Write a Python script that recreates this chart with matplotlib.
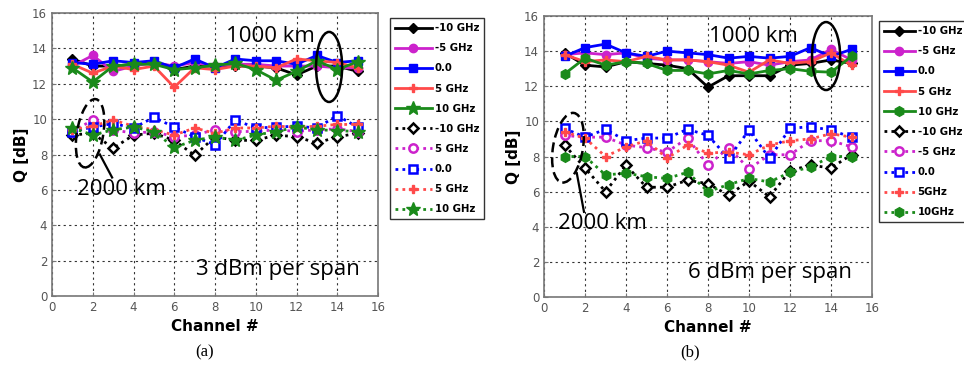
import matplotlib
matplotlib.use("Agg")
import matplotlib.pyplot as plt
from matplotlib.patches import Ellipse
import numpy as np

channels = list(range(1, 16))

# ---- Panel (a): 3 dBm per span ----
a_1000_m10 = [13.4, 13.0, 13.0, 13.1, 13.2, 12.8, 13.0, 13.0, 13.0, 13.0, 12.9, 12.5, 13.0, 13.0, 12.7]
a_1000_m5 = [13.0, 13.6, 12.7, 13.0, 13.2, 13.0, 13.2, 13.0, 13.1, 13.1, 13.0, 13.0, 13.0, 12.9, 12.9]
a_1000_0 = [13.2, 13.1, 13.3, 13.2, 13.3, 12.9, 13.4, 12.9, 13.4, 13.3, 13.3, 13.1, 13.6, 13.2, 13.3]
a_1000_p5 = [13.1, 12.6, 13.0, 12.8, 13.0, 11.8, 12.9, 12.8, 13.0, 13.0, 12.9, 13.4, 13.3, 13.2, 12.9]
a_1000_p10 = [12.9, 12.1, 13.0, 13.1, 13.1, 12.8, 12.9, 13.05, 13.15, 12.8, 12.2, 12.7, 13.3, 12.8, 13.25]

a_2000_m10 = [9.1, 9.2, 8.35, 9.1, 9.2, 8.8, 7.95, 9.0, 8.8, 8.8, 9.1, 9.0, 8.65, 9.0, 9.2]
a_2000_m5 = [9.3, 9.95, 9.4, 9.2, 9.3, 9.0, 9.1, 9.4, 9.3, 9.3, 9.4, 9.3, 9.4, 9.45, 9.3]
a_2000_0 = [9.3, 9.55, 9.75, 9.5, 10.1, 9.55, 9.0, 8.55, 9.95, 9.5, 9.55, 9.6, 9.5, 10.2, 9.55]
a_2000_p5 = [9.4, 9.6, 9.95, 9.6, 9.4, 9.1, 9.5, 9.2, 9.5, 9.5, 9.6, 9.55, 9.6, 9.7, 9.7]
a_2000_p10 = [9.5, 9.1, 9.4, 9.55, 9.3, 8.4, 8.8, 9.0, 8.8, 9.1, 9.3, 9.55, 9.4, 9.35, 9.3]

# ---- Panel (b): 6 dBm per span ----
b_1000_m10 = [13.9, 13.2, 13.1, 13.4, 13.3, 13.2, 13.0, 11.95, 12.6, 12.6, 12.6, 13.2, 13.3, 13.5, 13.3]
b_1000_m5 = [13.8, 13.9, 13.8, 13.9, 13.6, 13.5, 13.5, 13.4, 13.3, 13.4, 13.2, 13.4, 13.5, 14.1, 13.5]
b_1000_0 = [13.7, 14.2, 14.4, 13.9, 13.7, 14.0, 13.9, 13.8, 13.6, 13.7, 13.6, 13.7, 14.2, 13.7, 14.1]
b_1000_p5 = [13.8, 13.4, 13.5, 13.4, 13.7, 13.5, 13.5, 13.4, 13.2, 12.8, 13.5, 13.3, 13.4, 13.9, 13.2]
b_1000_p10 = [12.7, 13.6, 13.2, 13.4, 13.3, 12.9, 12.9, 12.7, 12.9, 12.7, 12.9, 13.0, 12.85, 12.8, 13.7]

b_2000_m10 = [8.65, 7.35, 6.0, 7.5, 6.25, 6.25, 6.65, 6.45, 5.8, 6.6, 5.7, 7.2, 7.5, 7.35, 8.1]
b_2000_m5 = [9.2, 9.1, 9.1, 8.65, 8.5, 8.25, 9.05, 7.5, 8.5, 7.3, 8.1, 8.1, 8.9, 8.9, 8.55]
b_2000_0 = [9.6, 9.1, 9.55, 8.9, 9.05, 9.05, 9.55, 9.2, 7.9, 9.5, 7.9, 9.6, 9.7, 9.5, 9.1]
b_2000_p5 = [9.4, 9.05, 8.0, 8.55, 8.9, 7.9, 8.65, 8.2, 8.25, 8.1, 8.65, 8.9, 9.0, 9.3, 9.1]
b_2000_p10 = [8.0, 8.0, 6.95, 7.05, 6.85, 6.75, 7.1, 6.0, 6.4, 6.75, 6.55, 7.1, 7.4, 8.0, 8.0]

labels_a = ["-10 GHz", "-5 GHz", "0.0", "5 GHz", "10 GHz", "-10 GHz", "5 GHz", "0.0", "5 GHz", "10 GHz"]
labels_b = ["-10 GHz", "-5 GHz", "0.0", "5 GHz", "10 GHz", "-10 GHz", "-5 GHz", "0.0", "5GHz", "10GHz"]
ticks = [0, 2, 4, 6, 8, 10, 12, 14, 16]

BLACK = "#000000"
MAG = "#cc22cc"
BLUE = "#0000ff"
RED = "#ff4a4a"
GREEN = "#1a8a1a"

W, H = 964, 369
fig = plt.figure(figsize=(W / 100, H / 100), dpi=100)


def ax_rect(x0, x1, ytop, ybot):
    return [x0 / W, 1 - ybot / H, (x1 - x0) / W, (ybot - ytop) / H]


def draw_panel(ax, solid, dotted, labels, star_marker, leg_anchor, hlen):
    colors = [BLACK, MAG, BLUE, RED, GREEN]
    markers = ["D", "o", "s", "P", star_marker]
    sizes = [5, 6, 6, 5.5, 10 if star_marker == "*" else 7]
    handles = []
    for vals, c, m, s in zip(solid, colors, markers, sizes):
        h, = ax.plot(channels, vals, color=c, lw=2.0, marker=m, ms=s,
                     mfc=c, mec=c, zorder=3)
        handles.append(h)
    hollow = [True, True, True, False, False]
    for vals, c, m, s, ho in zip(dotted, colors, markers, sizes, hollow):
        h, = ax.plot(channels, vals, color=c, lw=2.0, ls=(0, (1, 1.5)),
                     marker=m, ms=s, mfc="white" if ho else c, mec=c,
                     mew=1.8 if ho else 1, zorder=3)
        handles.append(h)
    ax.set_xlim(0, 16)
    ax.set_ylim(0, 16)
    ax.set_xticks(ticks)
    ax.set_yticks(ticks)
    ax.grid(True, ls=(0, (2, 3)), color="#333333", lw=0.8)
    ax.tick_params(direction="in", labelsize=8.5, labelcolor="#555555",
                   color="#777777", length=3)
    for sp in ax.spines.values():
        sp.set_color("#777777")
        sp.set_linewidth(1.2)
    ax.set_xlabel("Channel #", fontsize=11, fontweight="bold", labelpad=4)
    ax.set_ylabel("Q [dB]", fontsize=11, fontweight="bold", labelpad=2)
    leg = fig.legend(handles, labels, loc="upper left",
                     bbox_to_anchor=leg_anchor, frameon=True, fancybox=False,
                     edgecolor="black", handlelength=hlen,
                     labelspacing=1.0, borderpad=0.5, handletextpad=0.3,
                     prop={"weight": "bold", "size": 7.3})
    leg.get_frame().set_linewidth(1.0)
    return ax


ax1 = fig.add_axes(ax_rect(52, 378, 13, 296))
draw_panel(ax1,
           [a_1000_m10, a_1000_m5, a_1000_0, a_1000_p5, a_1000_p10],
           [a_2000_m10, a_2000_m5, a_2000_0, a_2000_p5, a_2000_p10],
           labels_a, "*", (385 / W, 1 - 13 / H), 3.6)

ax2 = fig.add_axes(ax_rect(544, 872, 16, 297))
draw_panel(ax2,
           [b_1000_m10, b_1000_m5, b_1000_0, b_1000_p5, b_1000_p10],
           [b_2000_m10, b_2000_m5, b_2000_0, b_2000_p5, b_2000_p10],
           labels_b, "h", (874 / W, 1 - 16 / H), 3.0)

annot_font = "Open Sans"

# panel (a) annotations
ax1.add_patch(Ellipse((13.6, 12.95), 1.28, 3.96, fill=False, color="black", lw=1.8, zorder=5))
ax1.text(10.7, 14.65, "1000 km", fontsize=16, family=annot_font, ha="center", va="center")
ax1.add_patch(Ellipse((1.87, 9.2), 1.3, 3.9, angle=-8, fill=False, color="black", lw=1.8,
                      ls=(0, (4, 2)), zorder=5))
ax1.plot([2.35, 2.95], [8.0, 6.7], color="black", lw=1.6, zorder=5)
ax1.text(3.4, 6.0, "2000 km", fontsize=16, family=annot_font, ha="center", va="center")
ax1.text(15.1, 1.5, "3 dBm per span", fontsize=16, family=annot_font, ha="right", va="center")

# panel (b) annotations
ax2.add_patch(Ellipse((13.76, 13.72), 1.37, 3.87, fill=False, color="black", lw=1.8, zorder=5))
ax2.text(10.2, 14.85, "1000 km", fontsize=16, family=annot_font, ha="center", va="center")
ax2.add_patch(Ellipse((1.17, 8.5), 1.46, 4.0, angle=-8, fill=False, color="black", lw=1.8,
                      ls=(0, (4, 2)), zorder=5))
ax2.plot([1.6, 1.95], [7.05, 4.85], color="black", lw=1.6, zorder=5)
ax2.text(2.85, 4.2, "2000 km", fontsize=16, family=annot_font, ha="center", va="center")
ax2.text(15.0, 1.42, "6 dBm per span", fontsize=16, family=annot_font, ha="right", va="center")

fig.text(205 / W, 1 - 352 / H, "(a)", fontsize=12, family="Liberation Serif", ha="center", va="center")
fig.text(690 / W, 1 - 352 / H, "(b)", fontsize=12, family="Liberation Serif", ha="center", va="center")

fig.savefig("out.png", dpi=100)
